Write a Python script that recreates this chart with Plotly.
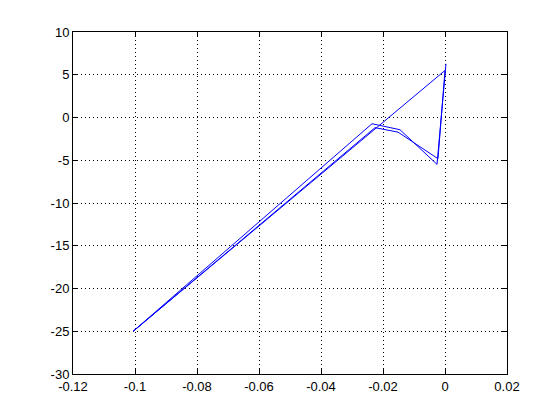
import plotly.graph_objects as go

# Path vertices (one continuous line)
x_vals = [-0.1004, -0.02258, -0.01516, -0.00226, 0.0000,
          -0.1006, -0.02355, -0.01452, -0.00258, 0.00032]
y_vals = [-24.95, -1.19, -1.71, -4.82, 5.50,
          -25.0, -0.73, -1.43, -5.48, 6.28]

x_ticks = [-0.12, -0.1, -0.08, -0.06, -0.04, -0.02, 0, 0.02]
x_tick_text = ["-0.12", "-0.1", "-0.08", "-0.06", "-0.04", "-0.02", "0", "0.02"]
y_ticks = [-30, -25, -20, -15, -10, -5, 0, 5, 10]
y_tick_text = ["-30", "-25", "-20", "-15", "-10", "-5", "0", "5", "10"]

fig = go.Figure()
fig.add_trace(go.Scatter(x=x_vals, y=y_vals, mode="lines",
                         line=dict(color="rgb(0,0,255)", width=1),
                         showlegend=False))

axis_common = dict(
    showline=True, linecolor="black", linewidth=1, mirror="ticks",
    ticks="inside", ticklen=5, tickcolor="black", tickwidth=1,
    showgrid=True, gridcolor="black", gridwidth=1, griddash="1px,3px",
    zeroline=False,
    tickfont=dict(family="Liberation Sans, Arial, sans-serif", size=13, color="black"),
)

fig.update_xaxes(range=[-0.12, 0.02], tickvals=x_ticks, ticktext=x_tick_text, **axis_common)
fig.update_yaxes(range=[-30, 10], tickvals=y_ticks, ticktext=y_tick_text, **axis_common)

fig.update_layout(
    width=560, height=420,
    margin=dict(l=65, r=61, t=24, b=54),
    plot_bgcolor="white", paper_bgcolor="white",
)

fig.write_html("out.html")
